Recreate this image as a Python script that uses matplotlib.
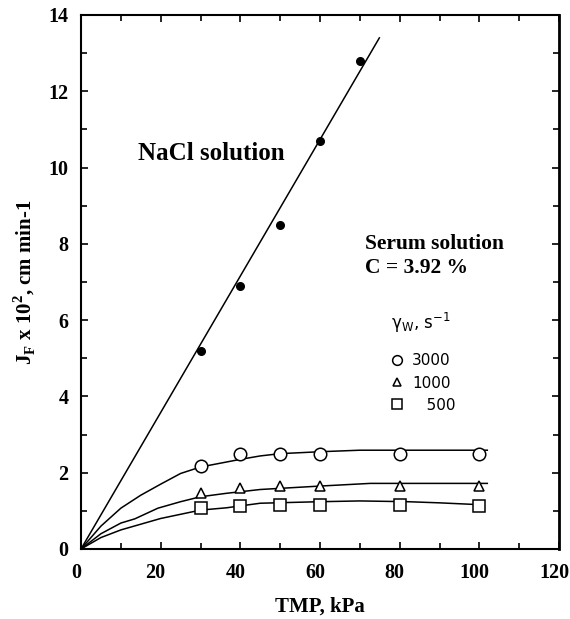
import matplotlib
matplotlib.use("Agg")
import matplotlib.pyplot as plt
from matplotlib.ticker import MultipleLocator
from matplotlib.lines import Line2D
from matplotlib.transforms import ScaledTranslation

# NaCl solution data
nacl_tmp = [30, 40, 50, 60, 70]
nacl_flux = [5.2, 6.9, 8.5, 10.7, 12.8]
nacl_fit_tmp = [0, 74.9]
nacl_fit_flux = [0, 13.4]

# Serum solution data (C = 3.92 %)
serum_tmp = [30, 40, 50, 60, 80, 100]
flux_3000 = [2.17, 2.48, 2.48, 2.48, 2.48, 2.48]
flux_1000 = [1.47, 1.59, 1.65, 1.65, 1.65, 1.65]
flux_500 = [1.07, 1.14, 1.15, 1.15, 1.15, 1.14]

fit3000_tmp = [0, 5, 10, 15, 20, 25, 30, 35, 40, 45, 50, 60, 70, 80, 90, 102]
fit3000_flux = [0, 0.6, 1.07, 1.41, 1.7, 1.98, 2.15, 2.25, 2.35, 2.44, 2.5, 2.55, 2.59, 2.59, 2.59, 2.59]
fit1000_tmp = [0, 5, 10, 13.5, 19.3, 25, 30, 36.5, 45, 60, 72.6, 102]
fit1000_flux = [0, 0.4, 0.68, 0.79, 1.07, 1.24, 1.37, 1.46, 1.56, 1.65, 1.72, 1.72]
fit500_tmp = [0, 5, 10, 20, 30, 36.5, 45, 60, 70, 82, 90, 100.5]
fit500_flux = [0, 0.3, 0.5, 0.8, 1.02, 1.08, 1.2, 1.24, 1.26, 1.24, 1.21, 1.16]

legend_labels = ["3000", "1000", "   500"]
x_ticks = [0, 20, 40, 60, 80, 100, 120]
y_ticks = [0, 2, 4, 6, 8, 10, 12, 14]

serif = "Liberation Serif"
sans = "DejaVu Sans"

fig = plt.figure(figsize=(5.7, 6.19), dpi=100)
ax = fig.add_axes([81/570, 70/619, (559-81)/570, (549-15)/619])

lw = 1.1
ax.plot(nacl_fit_tmp, nacl_fit_flux, color="black", lw=lw)
ax.plot(fit3000_tmp, fit3000_flux, color="black", lw=lw)
ax.plot(fit1000_tmp, fit1000_flux, color="black", lw=lw)
ax.plot(fit500_tmp, fit500_flux, color="black", lw=lw)

ax.plot(nacl_tmp, nacl_flux, "o", color="black", ms=5.5, zorder=3)
ax.plot(serum_tmp, flux_3000, "o", mfc="white", mec="black", mew=1.1, ms=9, zorder=3)
ax.plot(serum_tmp, flux_1000, "^", mfc="white", mec="black", mew=1.1, ms=7, zorder=3)
ax.plot(serum_tmp, flux_500, "s", mfc="white", mec="black", mew=1.1, ms=9, zorder=3)

ax.set_xlim(0, 120)
ax.set_ylim(0, 14)
ax.set_xticks(x_ticks)
ax.set_yticks(y_ticks)
ax.xaxis.set_minor_locator(MultipleLocator(10))
ax.yaxis.set_minor_locator(MultipleLocator(1))
ax.tick_params(which="both", direction="in", top=True, right=True, width=1.2)
ax.tick_params(which="major", length=5)
ax.tick_params(which="minor", length=4)
ax.tick_params(axis="x", pad=10)
ax.tick_params(axis="y", pad=9)
shift = ScaledTranslation(-5/100, 0, fig.dpi_scale_trans)
for lab in ax.get_xticklabels():
    lab.set_transform(lab.get_transform() + shift)
for lab in ax.get_xticklabels() + ax.get_yticklabels():
    lab.set_fontfamily(serif)
    lab.set_fontweight("bold")
    lab.set_fontsize(14.5)
for s in ax.spines.values():
    s.set_linewidth(1.5)
ax.spines["right"].set_linewidth(2)

ax.set_xlabel("TMP, kPa", family=serif, weight="bold", fontsize=15, labelpad=10)
ax.set_ylabel(r"J$_\mathregular{F}$ x 10$^\mathregular{2}$, cm min-1", family=serif,
              weight="bold", fontsize=15, labelpad=8)

ax.text(14.3, 10.37, "NaCl solution", family=serif, weight="bold", fontsize=18, va="center")
ax.text(71.4, 8.0, "Serum solution", family=serif, weight="bold", fontsize=15.5, va="center")
ax.text(71.4, 7.38, "C = 3.92 %", family=serif, weight="bold", fontsize=15.5, va="center")

ax.text(85.2, 5.92, r"γ$_\mathregular{W}$, s$^\mathregular{-1}$", family=sans, fontsize=12,
        ha="center", va="center")

handles = [
    Line2D([], [], ls="none", marker="o", mfc="white", mec="black", mew=1.1, ms=7),
    Line2D([], [], ls="none", marker="^", mfc="white", mec="black", mew=1.1, ms=6),
    Line2D([], [], ls="none", marker="s", mfc="white", mec="black", mew=1.1, ms=7),
]
leg = ax.legend(handles, legend_labels,
                frameon=False, loc="upper left", bbox_to_anchor=(0.616, 0.392),
                handlelength=1.0, handletextpad=0.5, labelspacing=0.47,
                prop={"family": sans, "size": 11})

fig.savefig("out.png", dpi=100)
